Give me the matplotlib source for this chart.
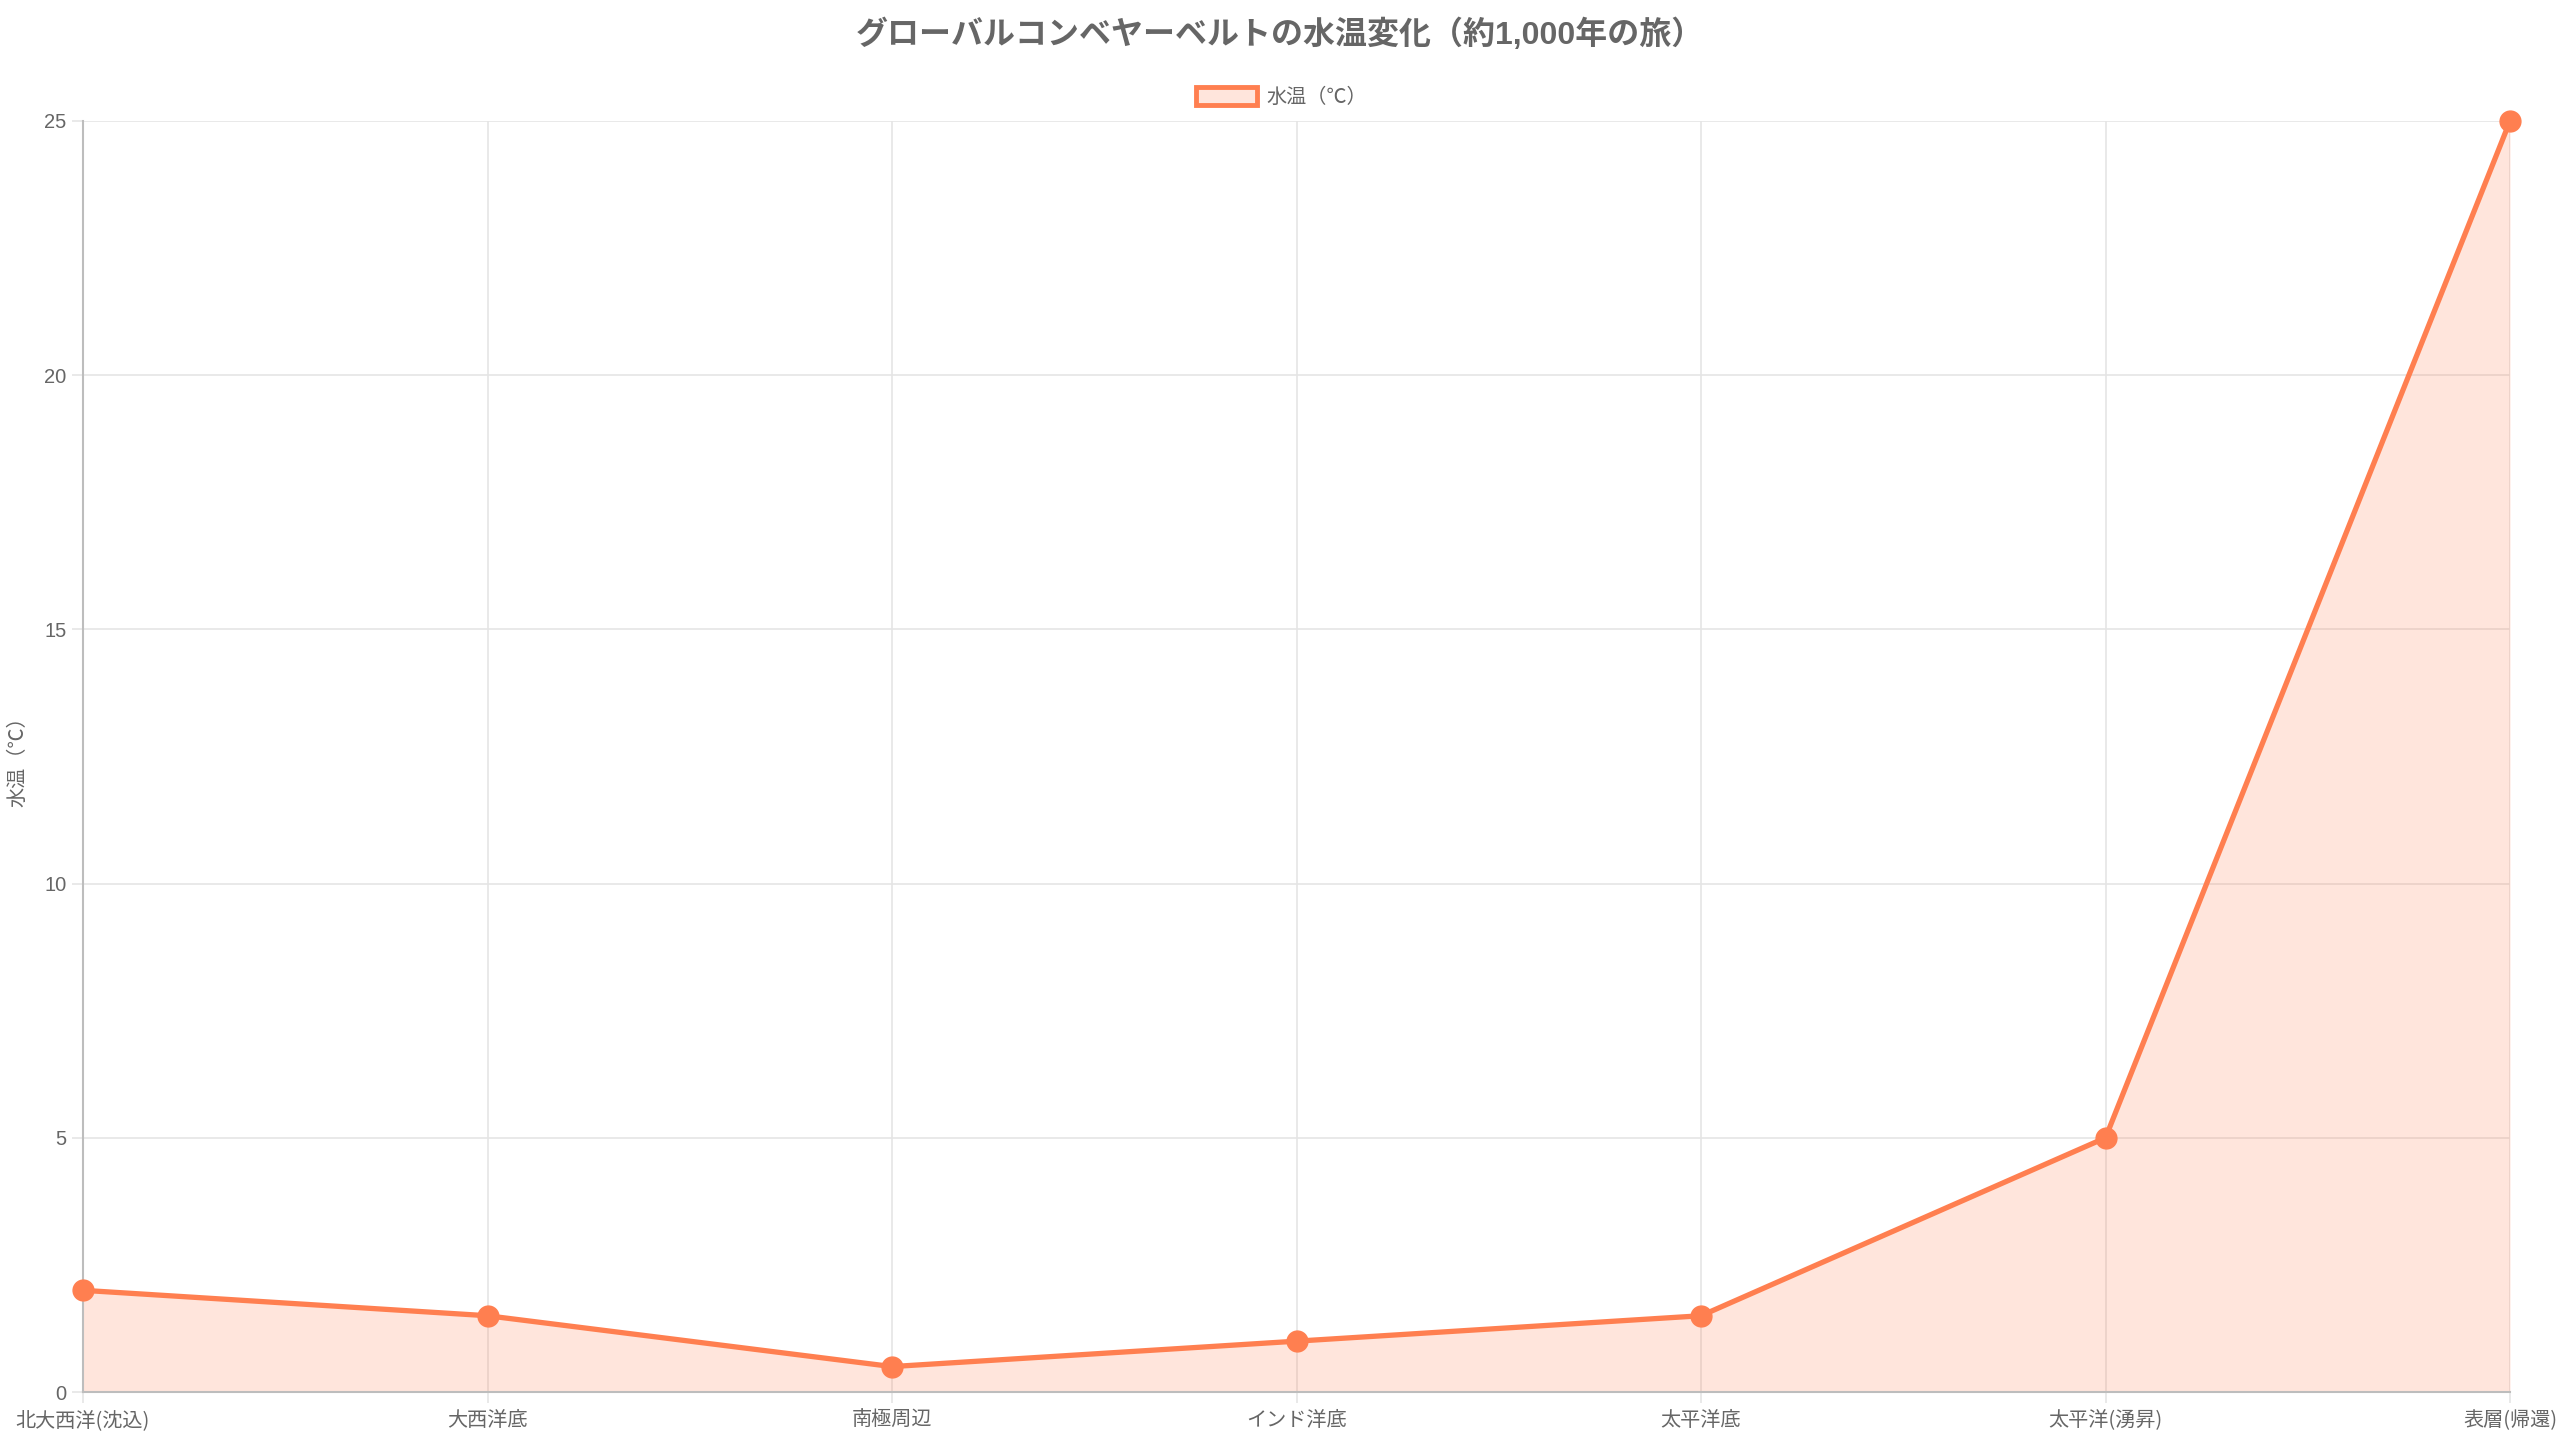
import matplotlib
matplotlib.use('Agg')
import matplotlib.pyplot as plt

plt.rcParams['font.family'] = ['Liberation Sans', 'Noto Sans CJK JP', 'DejaVu Sans']

# データ
stages = ['北大西洋(沈込)', '大西洋底', '南極周辺', 'インド洋底', '太平洋底', '太平洋(湧昇)', '表層(帰還)']
temps = [2, 1.5, 0.5, 1, 1.5, 5, 25]
yticks = [0, 5, 10, 15, 20, 25]

line_color = '#FF7F50'
fill_color = (1.0, 127 / 255, 80 / 255, 0.2)
grid_color = '#e5e5e5'
axis_color = '#bdbdbd'
text_color = '#666666'

fig = plt.figure(figsize=(25.6, 14.4), dpi=100)
ax = fig.add_axes([83 / 2560, 1 - 1392 / 1440, (2510 - 83) / 2560, (1392 - 121) / 1440])

x = list(range(len(stages)))
ax.fill_between(x, temps, 0, color=fill_color, linewidth=0, zorder=2)
ax.plot(x, temps, color=line_color, lw=3.8, marker='o', markersize=15,
        markerfacecolor=line_color, markeredgecolor=line_color, zorder=3, clip_on=False)

ax.set_xlim(0, len(stages) - 1)
ax.set_ylim(0, 25)
ax.set_xticks(x)
ax.set_xticklabels(stages, family=['Noto Sans CJK JP', 'DejaVu Sans'])
ax.set_yticks(yticks)
ax.grid(True, color=grid_color, lw=1.2, zorder=0)
ax.set_axisbelow(True)

for s in ['top', 'right']:
    ax.spines[s].set_visible(False)
for s in ['left', 'bottom']:
    ax.spines[s].set_color(axis_color)
    ax.spines[s].set_linewidth(1.5)

ax.tick_params(axis='both', colors=grid_color, length=8, width=1.2,
               labelcolor=text_color, labelsize=14.5, pad=4)
ax.tick_params(axis='x', pad=5)

ax.set_ylabel('水温（℃）', color=text_color, fontsize=14.5, labelpad=12)

fig.text(0.5, 1 - 35 / 1440, 'グローバルコンベヤーベルトの水温変化（約1,000年の旅）',
         ha='center', va='center', fontsize=23, fontweight='bold', color=text_color)

# 凡例
leg = ax.legend(
    [plt.Rectangle((0, 0), 1, 1, facecolor=fill_color, edgecolor=line_color, linewidth=3.5)],
    ['水温（℃）'], loc='lower center', bbox_to_anchor=(0.494, 1.0), frameon=False,
    fontsize=14.5, handlelength=3.0, handleheight=1.0, handletextpad=0.5, borderaxespad=0.3)
for t in leg.get_texts():
    t.set_color(text_color)

fig.savefig('out.png', dpi=100)
